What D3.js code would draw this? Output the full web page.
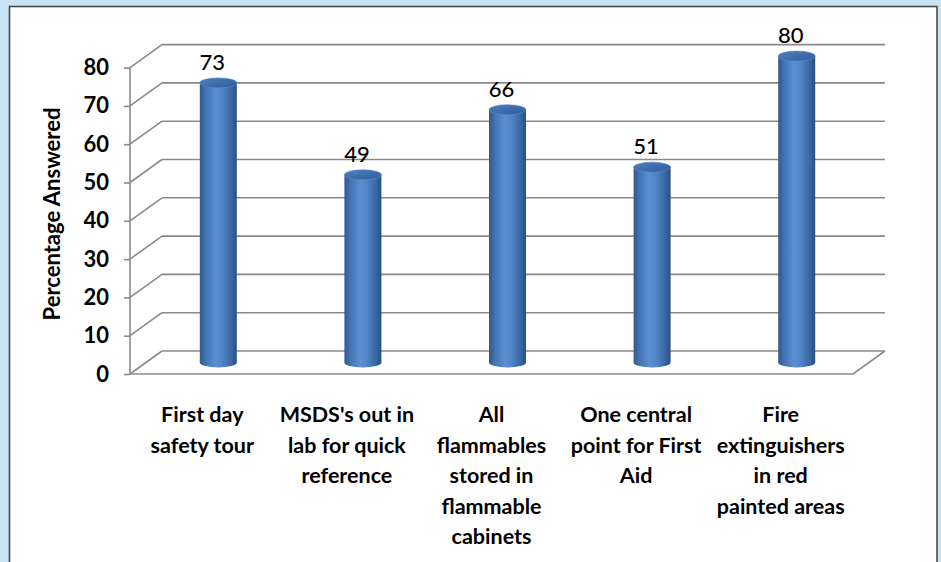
<!DOCTYPE html>
<html>
<head>
<meta charset="utf-8">
<script src="https://cdn.jsdelivr.net/npm/d3@7"></script>
<style>
  html, body { margin: 0; padding: 0; background: #c6e3f7; }
  svg { display: block; }
  text { font-family: Lato, "Open Sans", sans-serif; fill: #000; }
</style>
</head>
<body>
<svg id="chart" width="941" height="562"></svg>
<script>
// Survey results: share of respondents who answered each safety item
const categories = [
  ["First day", "safety tour"],
  ["MSDS's out in", "lab for quick", "reference"],
  ["All", "flammables", "stored in", "flammable", "cabinets"],
  ["One central", "point for First", "Aid"],
  ["Fire", "extinguishers", "in red", "painted areas"]
];
const values = [73, 49, 66, 51, 80];
const yTicks = [0, 10, 20, 30, 40, 50, 60, 70, 80];
const yTitle = "Percentage Answered";

const svg = d3.select("#chart");
const W = 941, H = 562;

// chart panel
svg.append("rect").attr("x", 0).attr("y", 0).attr("width", W).attr("height", H).attr("fill", "#c6e3f7");
svg.append("rect")
  .attr("x", 9.5).attr("y", 6.5).attr("width", 927.5).attr("height", H)
  .attr("fill", "#fff").attr("stroke", "#4a4a4a").attr("stroke-width", 1.6);

// 3D projection: front plane plus a depth offset toward the back wall
const depthX = 32, depthY = -23;
const x = d3.scaleBand().domain(d3.range(values.length)).range([130, 853]);
const y = d3.scaleLinear().domain([0, 80]).range([374, 67.6]);

const grid = svg.append("g").attr("stroke", "#8a8a8a").attr("stroke-width", 1.6).attr("fill", "none");

// back wall gridlines
grid.selectAll("line.back").data(yTicks).join("line")
  .attr("class", "back")
  .attr("x1", 130 + depthX).attr("x2", 853 + depthX)
  .attr("y1", d => y(d) + depthY).attr("y2", d => y(d) + depthY);

// side wall gridlines
grid.selectAll("line.side").data(yTicks).join("line")
  .attr("class", "side")
  .attr("x1", 130).attr("x2", 130 + depthX)
  .attr("y1", d => y(d)).attr("y2", d => y(d) + depthY);

// floor front edge and right edge
grid.append("path")
  .attr("d", `M130,${y(0)} L853,${y(0)} L${853 + depthX},${y(0) + depthY}`);

// front value axis with ticks
const axis = d3.axisLeft(y).tickValues(yTicks).tickSize(6).tickPadding(4).tickFormat(d3.format("d"));
const axG = svg.append("g").attr("transform", "translate(130,0)").call(axis);
axG.select(".domain").attr("stroke", "#8a8a8a").attr("stroke-width", 1.6).attr("d", `M0,${y(0)}V${y(80)}`);
axG.selectAll(".tick line").attr("stroke", "#8a8a8a").attr("stroke-width", 1.6);
axG.selectAll(".tick text")
  .attr("x", -21)
  .style("font-family", "Lato, sans-serif")
  .style("font-size", "22px").style("font-weight", "700").attr("fill", "#000");

// axis title
svg.append("text")
  .attr("transform", `translate(60,214) rotate(-90)`)
  .attr("text-anchor", "middle")
  .style("font-size", "22px").style("font-weight", "700")
  .text(yTitle);

// cylinder shading
const defs = svg.append("defs");
const body = defs.append("linearGradient").attr("id", "cylBody").attr("x1", "0").attr("x2", "1").attr("y1", "0").attr("y2", "0");
[[0, "#30598f"], [0.18, "#4576b6"], [0.42, "#5a8fd1"], [0.6, "#5385c7"], [0.85, "#3a67a3"], [1, "#2a4f82"]]
  .forEach(([o, c]) => body.append("stop").attr("offset", o).attr("stop-color", c));
const cap = defs.append("linearGradient").attr("id", "cylTop").attr("x1", "0").attr("x2", "1").attr("y1", "0").attr("y2", "1");
[[0, "#4e7fbf"], [0.5, "#3e6dab"], [1, "#335d95"]]
  .forEach(([o, c]) => cap.append("stop").attr("offset", o).attr("stop-color", c));

const rx = 18.5, ry = 5;
const cx = i => x(i) + x.bandwidth() / 2 + depthX / 2;
const cy = v => y(v) + depthY / 2;

const bars = svg.append("g").selectAll("g").data(values).join("g");
bars.append("path")
  .attr("fill", "url(#cylBody)")
  .attr("d", (v, i) => {
    const l = cx(i) - rx, r = cx(i) + rx, t = cy(v), b = cy(0);
    return `M${l},${t} L${l},${b} A${rx},${ry} 0 0 0 ${r},${b} L${r},${t} Z`;
  });
bars.append("ellipse")
  .attr("cx", (v, i) => cx(i)).attr("cy", v => cy(v))
  .attr("rx", rx).attr("ry", ry)
  .attr("fill", "url(#cylTop)").attr("stroke", "#5a8acb").attr("stroke-width", 0.6);

// value labels
svg.append("g").selectAll("text").data(values).join("text")
  .attr("x", (v, i) => cx(i) - 6)
  .attr("y", v => cy(v) - 13)
  .attr("text-anchor", "middle")
  .style("font-size", "22px").style("font-weight", "500")
  .text(v => v);

// category labels, one line per tspan
const cat = svg.append("g").selectAll("text").data(categories).join("text")
  .attr("text-anchor", "middle")
  .style("font-size", "21.5px").style("font-weight", "700")
  .attr("transform", (d, i) => `translate(${x(i) + x.bandwidth() / 2},422)`);
cat.selectAll("tspan").data(d => d).join("tspan")
  .attr("x", 0).attr("y", (d, j) => j * 30.6)
  .text(d => d);
</script>
</body>
</html>
